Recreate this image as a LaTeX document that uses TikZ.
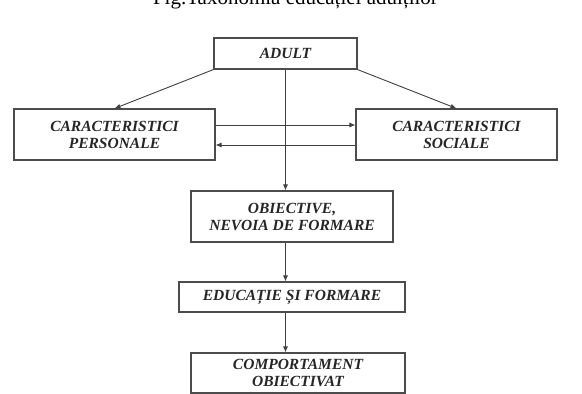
\documentclass[tikz,border=0pt]{standalone}
\usepackage{fontspec}
\setmainfont{Liberation Serif}
\usetikzlibrary{arrows.meta,positioning}

\begin{document}
\begin{tikzpicture}[x=1pt,y=-1pt,
  box/.style={draw=black!70,line width=1.1pt,align=center,inner sep=0pt,
    font=\fontsize{15.5}{17}\selectfont\bfseries\itshape,text=black!85},
  arr/.style={draw=black!75,line width=0.9pt,-{Latex[length=6pt,width=5pt]}}]

\useasboundingbox (0,0) rectangle (582,394);

% title, cut at the top edge
\node[font=\fontsize{21}{23}\selectfont,anchor=base] (title) at (295.5,4.5)
{Fig.Taxonomia educației adulților};

% boxes
\node[box,minimum width=143pt,minimum height=31pt] (adult) at (285.5,53.5) {ADULT};
\node[box,minimum width=201pt,minimum height=51pt] (pers) at (114.5,134.5)
{CARACTERISTICI\\PERSONALE};
\node[box,minimum width=201pt,minimum height=51pt] (soc) at (456.5,134.5)
{CARACTERISTICI\\SOCIALE};
\node[box,minimum width=202pt,minimum height=51pt] (obj) at (292,216.5)
{OBIECTIVE,\\NEVOIA DE FORMARE};
\node[box,minimum width=226pt,minimum height=30pt] (edu) at (292,297)
{EDUCAȚIE ȘI FORMARE};
\node[box,minimum width=214pt,minimum height=40pt] (comp) at (298,373)
{COMPORTAMENT\\OBIECTIVAT};

% arrows
\draw[arr] (adult.south west) -- (pers.north);
\draw[arr] (adult.south east) -- (soc.north);
\draw[arr] ([yshift=9.5pt]pers.east) -- ([yshift=9.5pt]soc.west);
\draw[arr] ([yshift=-10.5pt]soc.west) -- ([yshift=-10.5pt]pers.east);
\draw[arr] (adult.south) -- (adult.south |- obj.north);
\draw[arr] (adult.south |- obj.south) -- (adult.south |- edu.north);
\draw[arr] (adult.south |- edu.south) -- (adult.south |- comp.north);
\end{tikzpicture}
\end{document}
